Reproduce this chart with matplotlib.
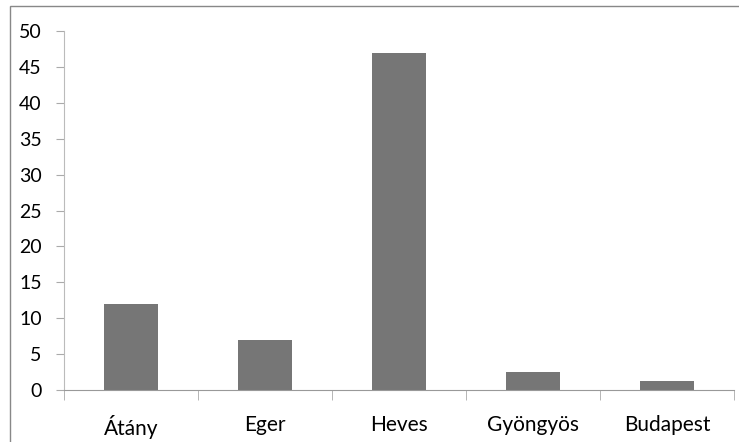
import matplotlib.pyplot as plt
from matplotlib.patches import Rectangle

places = ['Átány', 'Eger', 'Heves', 'Gyöngyös', 'Budapest']
values = [12, 7, 47, 2.5, 1.3]
yticks = list(range(0, 55, 5))

plt.rcParams['font.family'] = ['Lato', 'DejaVu Sans']

fig = plt.figure(figsize=(7.39, 4.42), dpi=100)
ax = fig.add_axes([64/739, 52/442, 670/739, 359/442])

x = list(range(len(places)))
ax.bar(x, values, width=0.4, color='#767676', zorder=2)

ax.set_xlim(-0.5, len(places) - 0.5)
ax.set_ylim(0, 50)
ax.set_yticks(yticks)
ax.set_yticklabels([str(t) for t in yticks], fontsize=14)
ax.set_xticks(x)
ax.set_xticklabels(places, fontsize=15)
ax.set_xticks([i - 0.5 for i in range(len(places) + 1)], minor=True)
ax.tick_params(axis='x', which='major', length=0, pad=18)
ax.tick_params(axis='x', which='minor', length=7, color='#aaaaaa', direction='out')
ax.tick_params(axis='y', length=6, color='#aaaaaa', pad=10)

for s in ['top', 'right']:
    ax.spines[s].set_visible(False)
ax.spines['left'].set_color('#bbbbbb')
ax.spines['bottom'].set_color('#999999')

# outer chart border
fig.patches.append(Rectangle((10/739, -0.1), 1.2, 1.1 - 6/442, transform=fig.transFigure,
                             fill=False, edgecolor='#888888', linewidth=1))

fig.savefig('out.png', dpi=100)
